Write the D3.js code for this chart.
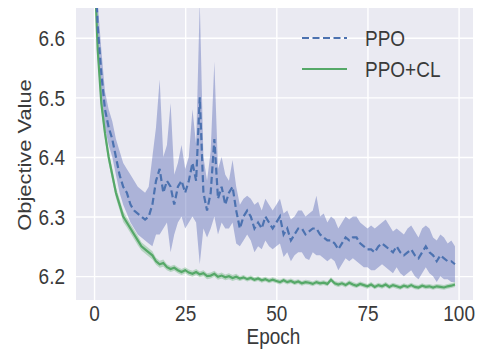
<!DOCTYPE html>
<html><head><meta charset="utf-8">
<script src="https://cdn.jsdelivr.net/npm/d3@7"></script>
<style>body{margin:0;background:#fff}</style>
</head><body>
<svg id="c" width="479" height="349"></svg>
<script>
const epochs = d3.range(0, 100);
const xTicks = [0, 25, 50, 75, 100];
const yTicks = [6.2, 6.3, 6.4, 6.5, 6.6];
const seriesNames = ["PPO", "PPO+CL"];

const ppoMean = [6.76,6.62,6.54,6.48,6.45,6.43,6.40,6.37,6.35,6.34,
 6.32,6.31,6.305,6.30,6.295,6.30,6.32,6.36,6.38,6.34,
 6.36,6.35,6.32,6.35,6.36,6.34,6.36,6.39,6.36,6.50,
 6.34,6.31,6.34,6.43,6.33,6.35,6.32,6.34,6.35,6.31,
 6.28,6.30,6.31,6.30,6.28,6.29,6.28,6.30,6.29,6.28,
 6.29,6.30,6.27,6.28,6.26,6.27,6.28,6.28,6.27,6.275,
 6.28,6.28,6.27,6.265,6.26,6.26,6.255,6.245,6.255,6.265,
 6.26,6.265,6.265,6.255,6.25,6.245,6.245,6.24,6.25,6.255,
 6.25,6.245,6.24,6.25,6.24,6.235,6.24,6.245,6.235,6.23,
 6.24,6.25,6.24,6.235,6.225,6.235,6.23,6.225,6.225,6.22];
const ppoHigh = [6.78,6.66,6.58,6.51,6.48,6.46,6.43,6.41,6.39,6.38,
 6.37,6.36,6.35,6.345,6.34,6.35,6.40,6.45,6.53,6.40,
 6.42,6.49,6.37,6.39,6.42,6.38,6.40,6.48,6.42,6.66,
 6.40,6.36,6.41,6.56,6.38,6.40,6.37,6.36,6.395,6.35,
 6.32,6.33,6.335,6.33,6.32,6.325,6.31,6.33,6.32,6.31,
 6.32,6.33,6.305,6.31,6.295,6.30,6.31,6.31,6.30,6.305,
 6.31,6.335,6.30,6.305,6.29,6.30,6.295,6.28,6.29,6.30,
 6.295,6.30,6.30,6.29,6.285,6.28,6.285,6.28,6.285,6.29,
 6.295,6.285,6.275,6.28,6.275,6.27,6.28,6.285,6.275,6.265,
 6.28,6.285,6.28,6.265,6.26,6.27,6.265,6.255,6.26,6.25];
const ppoLow = [6.74,6.58,6.50,6.45,6.42,6.40,6.37,6.34,6.32,6.305,
 6.29,6.28,6.27,6.265,6.26,6.255,6.25,6.27,6.27,6.28,
 6.29,6.24,6.27,6.29,6.30,6.28,6.29,6.30,6.29,6.22,
 6.28,6.265,6.28,6.30,6.27,6.29,6.28,6.28,6.29,6.255,
 6.25,6.26,6.27,6.26,6.24,6.25,6.245,6.26,6.25,6.245,
 6.25,6.255,6.232,6.24,6.225,6.235,6.24,6.24,6.23,6.227,
 6.24,6.235,6.235,6.23,6.225,6.23,6.225,6.21,6.22,6.23,
 6.225,6.23,6.225,6.22,6.215,6.215,6.21,6.21,6.215,6.22,
 6.215,6.21,6.205,6.215,6.205,6.20,6.205,6.21,6.20,6.195,
 6.205,6.215,6.205,6.20,6.19,6.20,6.195,6.195,6.19,6.19];

const clMean = [6.74,6.58,6.49,6.44,6.40,6.37,6.34,6.32,6.30,6.29,
 6.28,6.27,6.26,6.25,6.245,6.24,6.235,6.225,6.22,6.222,
 6.215,6.212,6.214,6.21,6.207,6.21,6.206,6.204,6.207,6.203,
 6.205,6.20,6.201,6.204,6.199,6.201,6.198,6.20,6.197,6.199,
 6.196,6.198,6.195,6.197,6.194,6.196,6.193,6.195,6.192,6.194,
 6.192,6.19,6.193,6.19,6.192,6.189,6.191,6.188,6.19,6.189,
 6.187,6.19,6.188,6.189,6.187,6.194,6.188,6.186,6.188,6.185,
 6.189,6.186,6.184,6.187,6.185,6.183,6.186,6.182,6.185,6.183,
 6.186,6.182,6.185,6.183,6.181,6.184,6.182,6.185,6.182,6.181,
 6.184,6.182,6.183,6.181,6.183,6.182,6.181,6.183,6.184,6.186];
const clSpread = [0.02,0.016,0.013,0.011,0.01,0.01,0.009,0.009,0.009,0.008,
 0.008,0.008,0.008,0.007,0.007,0.007,0.007,0.006,0.006,0.006,
 0.005,0.005,0.005,0.005,0.005,0.005,0.005,0.005,0.005,0.005,
 0.005,0.005,0.005,0.005,0.005,0.005,0.005,0.005,0.005,0.005,
 0.004,0.004,0.004,0.004,0.004,0.004,0.004,0.004,0.004,0.004,
 0.004,0.004,0.004,0.004,0.004,0.004,0.004,0.004,0.004,0.004,
 0.004,0.004,0.004,0.004,0.004,0.004,0.004,0.004,0.004,0.004,
 0.004,0.004,0.004,0.004,0.004,0.004,0.004,0.004,0.004,0.004,
 0.004,0.004,0.004,0.004,0.004,0.004,0.004,0.004,0.004,0.004,
 0.004,0.004,0.004,0.004,0.004,0.004,0.004,0.004,0.004,0.004];

const L = 76, R = 473, T = 8, B = 300;
const FONT = "'Liberation Sans', Arial, sans-serif";
const FS = 19, SY = 1.15;            // font size, vertical stretch of glyphs
const HALF = FS * 0.716 * SY / 2;    // half of stretched cap height
const TXT = "#3a3a3a";
const BLUE = "#4C72B0", GREEN = "#55A868";

const svg = d3.select("#c");
const x = d3.scaleLinear().domain([-4.95, 103.95]).range([L, R]);
const y = d3.scaleLinear().domain([6.16, 6.65]).range([B, T]);

svg.append("rect").attr("x", L).attr("y", T).attr("width", R - L).attr("height", B - T).attr("fill", "#EAEAF2");
svg.append("clipPath").attr("id", "clip").append("rect")
  .attr("x", L).attr("y", T).attr("width", R - L).attr("height", B - T);

function styleText(sel) {
  return sel.attr("fill", TXT).style("font-family", FONT).style("font-size", FS + "px");
}

const gx = svg.append("g").attr("transform", `translate(0,${B})`)
  .call(d3.axisBottom(x).tickValues(xTicks).tickFormat(d3.format("d"))
    .tickSizeInner(-(B - T)).tickSizeOuter(0).tickPadding(9));
const gy = svg.append("g").attr("transform", `translate(${L},0)`)
  .call(d3.axisLeft(y).tickValues(yTicks).tickFormat(d3.format(".1f"))
    .tickSizeInner(-(R - L)).tickSizeOuter(0).tickPadding(11));
[gx, gy].forEach(g => {
  g.select(".domain").remove();
  g.selectAll(".tick line").attr("stroke", "#fff").attr("stroke-width", 1.4);
  styleText(g.selectAll(".tick text"));
});
gx.selectAll(".tick text").attr("y", null).attr("dy", null)
  .attr("transform", `translate(0,21) scale(1,${SY})`);
gy.selectAll(".tick text").attr("x", null).attr("dy", null)
  .attr("transform", `translate(-11,${HALF}) scale(1,${SY})`);

const plot = svg.append("g").attr("clip-path", "url(#clip)");
const idx = epochs.map((e, i) => i);

const areaPPO = d3.area().x(i => x(epochs[i])).y0(i => y(ppoLow[i])).y1(i => y(ppoHigh[i]));
const areaCL = d3.area().x(i => x(epochs[i])).y0(i => y(clMean[i] - clSpread[i])).y1(i => y(clMean[i] + clSpread[i]));
plot.append("path").attr("d", areaPPO(idx)).attr("fill", "#5566B5").attr("fill-opacity", 0.42);
plot.append("path").attr("d", areaCL(idx)).attr("fill", GREEN).attr("fill-opacity", 0.35);

const linePPO = d3.line().x(i => x(epochs[i])).y(i => y(ppoMean[i]));
const lineCL = d3.line().x(i => x(epochs[i])).y(i => y(clMean[i]));
plot.append("path").attr("d", lineCL(idx)).attr("fill", "none").attr("stroke", GREEN).attr("stroke-width", 2.2);
plot.append("path").attr("d", linePPO(idx)).attr("fill", "none").attr("stroke", BLUE)
  .attr("stroke-width", 2.2).attr("stroke-dasharray", "7,3.5");

// legend
const leg = svg.append("g");
const legY = [38, 69];
const styles = [{c: BLUE, dash: "7,3.5"}, {c: GREEN, dash: null}];
seriesNames.forEach((n, i) => {
  leg.append("line").attr("x1", 302).attr("x2", 347).attr("y1", legY[i]).attr("y2", legY[i])
    .attr("stroke", styles[i].c).attr("stroke-width", 2.2)
    .attr("stroke-dasharray", styles[i].dash);
  styleText(leg.append("text"))
    .attr("transform", `translate(365,${legY[i] + HALF}) scale(1,${SY})`).text(n);
});

styleText(svg.append("text"))
  .attr("transform", `translate(${(L + R) / 2 - 1},344) scale(1,${SY})`)
  .attr("text-anchor", "middle").text("Epoch");
styleText(svg.append("text"))
  .attr("transform", `translate(31,${(T + B) / 2 + 1}) rotate(-90) scale(${SY},1)`)
  .attr("text-anchor", "middle").text("Objective Value");
</script>
</body></html>
